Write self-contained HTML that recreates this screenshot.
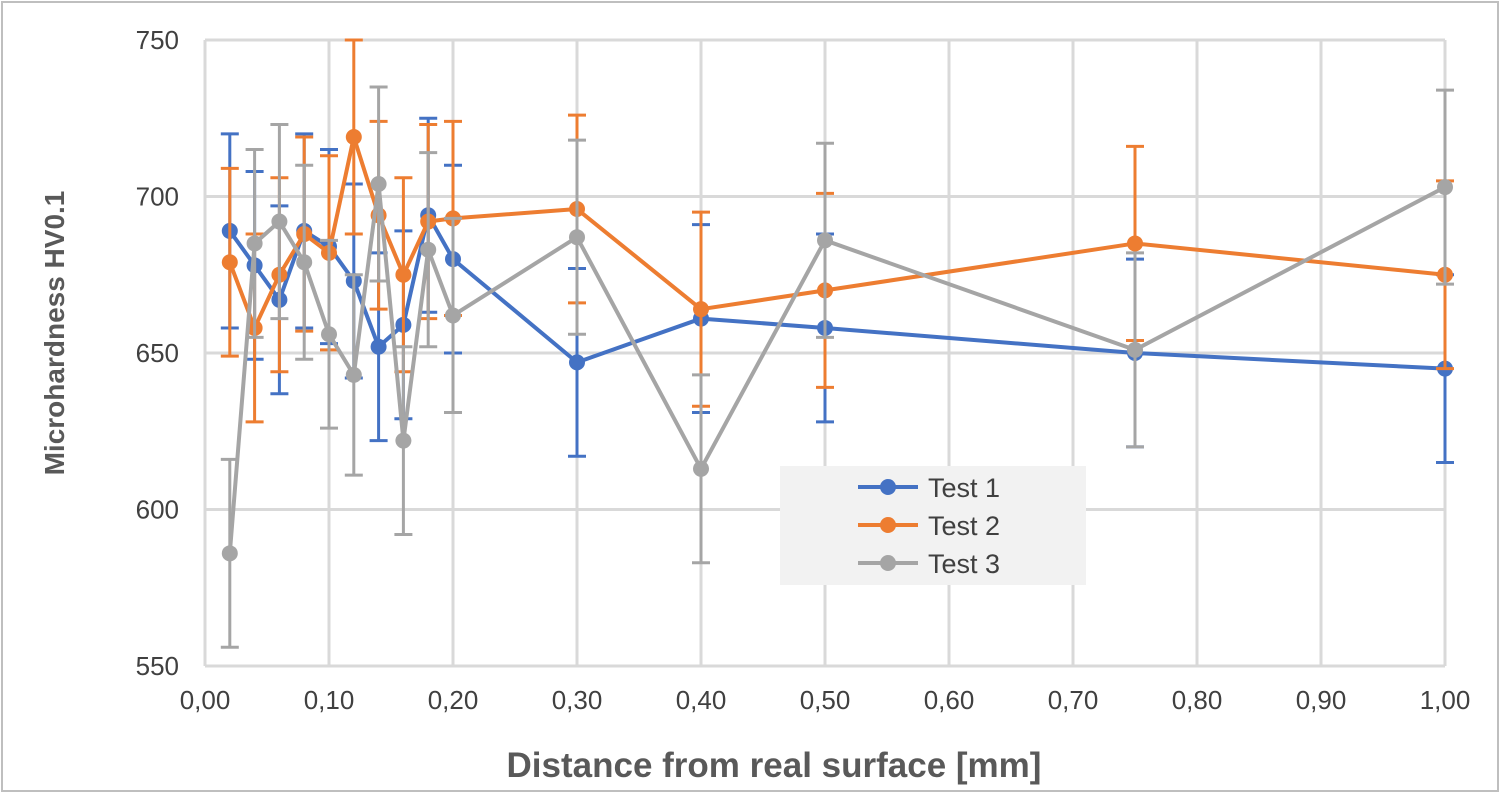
<!DOCTYPE html>
<html><head><meta charset="utf-8"><style>
html,body{margin:0;padding:0;background:#fff}
svg{display:block;font-family:"Liberation Sans",Arial,sans-serif}
</style></head><body>
<svg id="chart" width="1500" height="793" viewBox="0 0 1500 793" xmlns="http://www.w3.org/2000/svg">
<rect x="2" y="2" width="1496" height="789" fill="#fff" stroke="#bfbfbf" stroke-width="2"/>
<g id="grid"></g>
<g id="series"></g>
<g id="axes"></g>
<text transform="translate(64,333) rotate(-90)" text-anchor="middle" font-size="28" font-weight="bold" fill="#595959">Microhardness HV0.1</text>
<text x="774" y="777" text-anchor="middle" font-size="35" font-weight="bold" fill="#595959">Distance from real surface [mm]</text>
<g>
<rect x="780" y="466" width="306" height="119" fill="#f2f2f2"/>
<g id="legend"></g>
</g>
</svg>
<script>
const xValues=[0.02,0.04,0.06,0.08,0.10,0.12,0.14,0.16,0.18,0.20,0.30,0.40,0.50,0.75,1.00];
const test1=[689,678,667,689,684,673,652,659,694,680,647,661,658,650,645];
const test2=[679,658,675,688,682,719,694,675,692,693,696,664,670,685,675];
const test3=[586,685,692,679,656,643,704,622,683,662,687,613,686,651,703];
const err1=[31,30,30,31,31,31,30,30,31,30,30,30,30,30,30];
const err2=[30,30,31,31,31,31,30,31,31,31,30,31,31,31,30];
const err3=[30,30,31,31,30,32,31,30,31,31,31,30,31,31,31];
const xTicks=[0,0.1,0.2,0.3,0.4,0.5,0.6,0.7,0.8,0.9,1.0];
const yTicks=[550,600,650,700,750];
const seriesNames=["Test 1","Test 2","Test 3"];
const colors=["#4472c4","#ed7d31","#a5a5a5"];

const L=205,R=1445,T=40,B=666;
const xs=v=>L+(v-0)/(1-0)*(R-L);
const ys=v=>B-(v-550)/(750-550)*(B-T);
const NS="http://www.w3.org/2000/svg";
function mk(tag,attrs,parent){const e=document.createElementNS(NS,tag);for(const k in attrs)e.setAttribute(k,attrs[k]);parent.appendChild(e);return e;}
const grid=document.getElementById('grid'),axes=document.getElementById('axes'),ser=document.getElementById('series'),leg=document.getElementById('legend');
xTicks.forEach(t=>{
  const l=mk('line',{x1:xs(t),x2:xs(t),y1:T,y2:B,stroke:'#d9d9d9','stroke-width':3},grid);
  
  
  const tx=mk('text',{x:xs(t),y:709,'text-anchor':'middle','font-size':26,fill:'#404040'},axes);
  tx.textContent=t.toFixed(2).replace('.',',');
  
  
});
yTicks.forEach(t=>{
  const l=mk('line',{x1:L,x2:R,y1:ys(t),y2:ys(t),stroke:'#d9d9d9','stroke-width':3},grid);
  
  
  const tx=mk('text',{x:179,y:ys(t)+9,'text-anchor':'end','font-size':26,fill:'#404040'},axes);
  tx.textContent=t;
  
  
});
const data=[test1,test2,test3],errs=[err1,err2,err3];
data.forEach((d,si)=>{
  const g=mk('g',{},ser);
  
  
  d.forEach((v,i)=>{
    const x=xs(xValues[i]),e=errs[si][i];
    const eb=mk('path',{d:`M${x},${ys(v+e)}V${ys(v-e)}M${x-9},${ys(v+e)}H${x+9}M${x-9},${ys(v-e)}H${x+9}`,stroke:colors[si],'stroke-width':3,fill:'none'},g);
    
    
  });
  const p=mk('polyline',{points:d.map((v,i)=>xs(xValues[i])+','+ys(v)).join(' '),fill:'none',stroke:colors[si],'stroke-width':4,'stroke-linejoin':'round'},g);
  
  
  d.forEach((v,i)=>{
    const c=mk('circle',{cx:xs(xValues[i]),cy:ys(v),r:8,fill:colors[si]},g);
    
    
  });
  const ly=487+si*38;
  const ll=mk('line',{x1:858,x2:918,y1:ly,y2:ly,stroke:colors[si],'stroke-width':4},leg);
  
  
  const lc=mk('circle',{cx:888,cy:ly,r:8,fill:colors[si]},leg);
  
  
  const lt=mk('text',{x:928,y:ly+10,'font-size':27,fill:'#404040'},leg);
  lt.textContent=seriesNames[si];
  
  
});
</script>
</body></html>
